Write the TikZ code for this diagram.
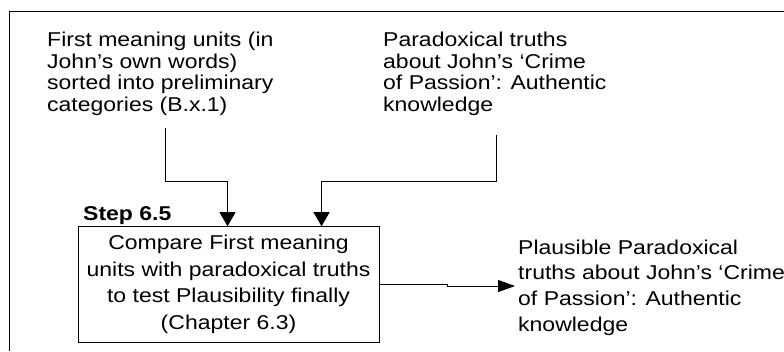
\documentclass[tikz,border=0pt]{standalone}
\usepackage{fontspec}
\setmainfont{Liberation Sans}[FakeStretch=1.15]
\usetikzlibrary{arrows.meta,calc}
\begin{document}
\begin{tikzpicture}[x=1pt,y=-1pt,
  txt/.style={inner sep=0pt,align=left,font=\fontsize{20}{21.7}\selectfont,anchor=base west},
  txtc/.style={inner sep=0pt,align=left,font=\fontsize{20}{25.7}\selectfont,anchor=base west},
  stepbox/.style={draw,line width=0.9pt,inner sep=0pt,minimum width=301pt,minimum height=115.3pt,align=center,font=\fontsize{20}{26.7}\selectfont},
  arrv/.style={line width=0.9pt,-{Triangle[length=14pt,width=16pt]}},
  arrh/.style={line width=0.9pt,-{Triangle[length=17pt,width=12pt]}},
  ln/.style={line width=0.9pt}]
\useasboundingbox (0,0) rectangle (784,351);
\fill[white] (0,0) rectangle (784,351);
\draw[ln] (9,351) -- (9,11) -- (784,11);
\node[txt] (ta) at (47,111.6) {First meaning units (in\\John’s own words)\\sorted into preliminary\\categories (B.x.1)};
\node[txt] (tb) at (383,111.6) {Paradoxical truths\\about John’s ‘Crime\\of Passion’: Authentic\\knowledge};
\node[stepbox] (box) at (228.5,284.3) {Compare First meaning\\units with paradoxical truths\\to test Plausibility finally\\(Chapter 6.3)};
\node[inner sep=0pt,anchor=base west,font=\fontsize{20}{21.7}\selectfont\bfseries] (step) at (83,220) {Step 6.5};
\node[txtc] (tc) at (518,331.1) {Plausible Paradoxical\\truths about John’s ‘Crime\\of Passion’: Authentic\\knowledge};
\coordinate (a1) at (165,128);
\coordinate (a2) at (496,135);
\coordinate (j1) at (447,284.3);
\coordinate (tip) at (515,286);
\draw[arrv] (a1) -- ++(0,53) -| ($(box.north west)+(150,0)$);
\draw[arrv] (a2) -- ++(0,46) -| ($(box.north west)+(244,0)$);
\draw[arrh] (box.east |- j1) -- (j1) -- (j1 |- tip) -- (tip);
\end{tikzpicture}
\end{document}
